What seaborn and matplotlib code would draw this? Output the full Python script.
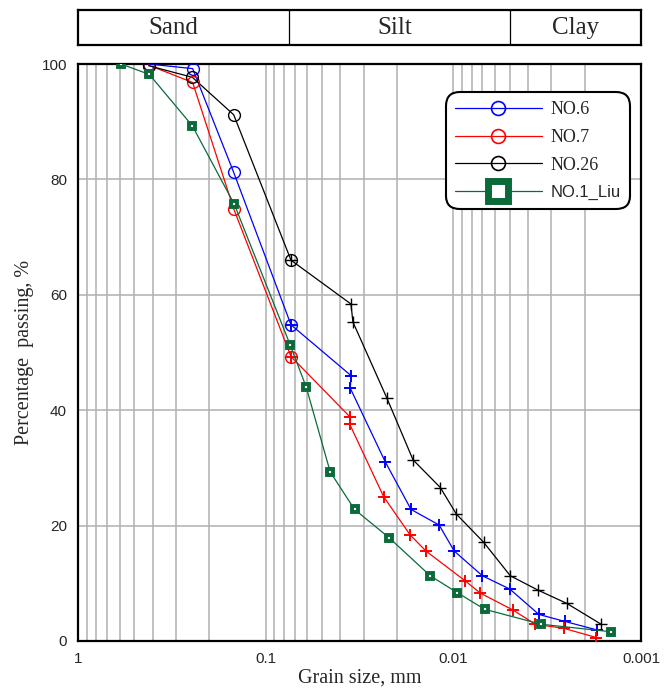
import numpy as np
import pandas as pd
import seaborn as sns
import matplotlib
matplotlib.use('Agg')
import matplotlib.pyplot as plt
from matplotlib.lines import Line2D
from matplotlib.ticker import LogLocator, NullFormatter, FixedLocator, FixedFormatter

sns.set_style('white')
plt.rcParams['font.family'] = ['Liberation Sans', 'DejaVu Sans']

# NO.6 : sieve part (circles) and hydrometer part (+)
no6_sieve_d = [0.42, 0.245, 0.148, 0.0733]
no6_sieve_p = [100.0, 99.2, 81.2, 54.8]
no6_hyd_d = [0.0733, 0.0351, 0.0354, 0.0231, 0.0168, 0.0119, 0.0099, 0.0070, 0.0050, 0.0035, 0.00255, 0.00171]
no6_hyd_p = [54.8, 46.0, 43.8, 31.1, 22.8, 20.1, 15.6, 11.3, 9.0, 4.6, 3.4, 1.9]

# NO.7
no7_sieve_d = [0.42, 0.245, 0.148, 0.0733]
no7_sieve_p = [99.8, 96.8, 74.9, 49.3]
no7_hyd_d = [0.0733, 0.0357, 0.0357, 0.0235, 0.0170, 0.0140, 0.00863, 0.00718, 0.00483, 0.00365, 0.00258, 0.00173]
no7_hyd_p = [49.3, 38.9, 37.6, 25.0, 18.4, 15.6, 10.4, 8.3, 5.4, 2.9, 2.2, 0.6]

# NO.26
no26_sieve_d = [0.42, 0.246, 0.148, 0.0733]
no26_sieve_p = [99.7, 97.7, 91.2, 66.0]
no26_hyd_d = [0.0733, 0.0351, 0.0343, 0.0226, 0.0164, 0.01173, 0.00964, 0.00689, 0.00497, 0.00353, 0.00248, 0.00163]
no26_hyd_p = [66.0, 58.4, 55.3, 42.1, 31.4, 26.6, 22.0, 17.1, 11.3, 8.8, 6.5, 2.9]

# NO.1_Liu
liu_d = [0.59, 0.417, 0.246, 0.147, 0.074, 0.0608, 0.0453, 0.0336, 0.0220, 0.01327, 0.00955, 0.00681, 0.0034, 0.00144]
liu_p = [100.0, 98.2, 89.3, 75.7, 51.3, 44.0, 29.3, 22.8, 17.9, 11.3, 8.4, 5.5, 2.9, 1.6]

soil_names = ['Sand', 'Silt', 'Clay']
soil_bounds = [1.0, 0.075, 0.005, 0.001]
soil_label_x = [0.31, 0.0205, 0.00222]

green = '#0b6a3a'

fig = plt.figure(figsize=(6.72, 6.91), dpi=100)
ax = fig.add_axes([78 / 672, 1 - 641 / 691, 563 / 672, 577 / 691])
band = fig.add_axes([78 / 672, 1 - 45 / 691, 563 / 672, 35 / 691])

samples = [
    ('NO.6', 'blue', no6_sieve_d, no6_sieve_p, no6_hyd_d, no6_hyd_p, 1.4),
    ('NO.7', 'red', no7_sieve_d, no7_sieve_p, no7_hyd_d, no7_hyd_p, 1.4),
    ('NO.26', 'black', no26_sieve_d, no26_sieve_p, no26_hyd_d, no26_hyd_p, 1.0),
]

for name, col, sd, sp, hd, hp, pw in samples:
    d_all = sd + hd[1:]
    p_all = sp + hp[1:]
    sns.lineplot(x=d_all, y=p_all, ax=ax, color=col, lw=0.9, sort=False,
                 estimator=None, legend=False, zorder=3)
    sns.lineplot(x=sd, y=sp, ax=ax, color=col, linestyle='none', marker='o', ms=8.5,
                 mfc='none', mec=col, mew=1.0, sort=False, estimator=None, legend=False, zorder=4)
    sns.lineplot(x=hd, y=hp, ax=ax, color=col, linestyle='none', marker='+', ms=8,
                 mec=col, mew=pw, sort=False, estimator=None, legend=False, zorder=4)

sns.lineplot(x=liu_d, y=liu_p, ax=ax, color=green, lw=0.9, marker='s', ms=4.8,
             mfc='white', mec=green, mew=2.8, sort=False, estimator=None, legend=False, zorder=5)

ax.set_xscale('log')
ax.set_xlim(1, 0.001)
ax.set_ylim(0, 100)
ax.xaxis.set_major_locator(FixedLocator([1, 0.1, 0.01, 0.001]))
ax.xaxis.set_major_formatter(FixedFormatter(['1', '0.1', '0.01', '0.001']))
ax.xaxis.set_minor_locator(LogLocator(base=10, subs=np.arange(2, 10)))
ax.xaxis.set_minor_formatter(NullFormatter())
ax.set_yticks(np.arange(0, 101, 20))
ax.set_yticks(np.arange(10, 100, 20), minor=True)

ax.grid(which='both', axis='x', color='#b0b0b0', lw=1.1)
ax.grid(which='major', axis='y', color='#b0b0b0', lw=1.1)
ax.set_axisbelow(True)

ax.tick_params(axis='both', which='major', direction='in', length=5, width=1.2,
               labelsize=11, color='#555555', pad=8)
ax.tick_params(axis='both', which='minor', direction='in', length=3, width=1.0, color='#555555')
for s in ax.spines.values():
    s.set_linewidth(1.6)
    s.set_color('black')

ax.set_xlabel('Grain size, mm', family=['Liberation Serif'], fontsize=14.5, labelpad=2)
ax.set_ylabel('Percentage  passing, %', family=['Liberation Serif'], fontsize=14.5, labelpad=5)

handles = [
    Line2D([], [], color='blue', lw=0.9, marker='o', ms=10, mfc='none', mec='blue', mew=1.2),
    Line2D([], [], color='red', lw=0.9, marker='o', ms=10, mfc='none', mec='red', mew=1.2),
    Line2D([], [], color='black', lw=0.9, marker='o', ms=10, mfc='none', mec='black', mew=1.2),
    Line2D([], [], color=green, lw=0.9, marker='s', ms=14, mfc='white', mec=green, mew=5),
]
labels = ['NO.6', 'NO.7', 'NO.26', 'NO.1_Liu']
leg = ax.legend(handles, labels, loc='upper right', bbox_to_anchor=(630 / 672, 1 - 92 / 691),
                bbox_transform=fig.transFigure, borderaxespad=0, frameon=True, fancybox=True,
                handlelength=4.8, handletextpad=0.5, labelspacing=0.6, borderpad=0.5,
                framealpha=1, edgecolor='black', prop={'family': 'Liberation Serif', 'size': 13})
leg.get_frame().set_linewidth(1.5)
leg.get_frame().set_boxstyle('round', pad=0, rounding_size=0.75)
for t in leg.get_texts():
    if t.get_text() == 'NO.1_Liu':
        t.set_family('Liberation Sans')
        t.set_fontsize(12)

band.set_xscale('log')
band.set_xlim(1, 0.001)
band.set_ylim(0, 1)
band.set_xticks([])
band.set_yticks([])
band.minorticks_off()
for s in band.spines.values():
    s.set_linewidth(1.6)
    s.set_color('black')
for b in soil_bounds[1:-1]:
    band.axvline(b, color='black', lw=0.9)
for name, xc in zip(soil_names, soil_label_x):
    band.text(xc, 0.48, name, ha='center', va='center', family=['Liberation Serif'], fontsize=18)

fig.savefig('out.png', dpi=100)
